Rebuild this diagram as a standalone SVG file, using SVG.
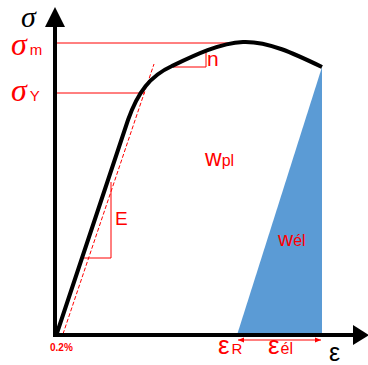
<svg xmlns="http://www.w3.org/2000/svg" width="368" height="365" viewBox="0 0 368 365">
<style>
.ax{stroke:#000;stroke-width:4;fill:none}
.rl{stroke:#ff0000;stroke-width:1;fill:none}
.rt{fill:#ff0000;font-family:"Liberation Sans",Arial,sans-serif}
.sg{font-family:"Liberation Serif","Times New Roman",serif;font-style:italic}
</style>
<defs>
<marker id="ah" markerWidth="6" markerHeight="6" refX="6" refY="3" orient="auto-start-reverse" markerUnits="userSpaceOnUse">
<path d="M0,0.5 L6,3 L0,5.5 Z" fill="#ff0000"/>
</marker>
</defs>
<g id="area-el">
<polygon points="237,335 322,335 322,67" fill="#5b9bd5"/>
</g>
<g id="connectors">
<line class="rl" x1="55" y1="43" x2="240" y2="43"/>
<line class="rl" x1="55" y1="93" x2="145" y2="93"/>
<line class="rl" x1="63" y1="334" x2="154" y2="64" stroke-dasharray="4 2"/>
<polyline class="rl" points="84,258 111,258 111,182"/>
<polyline class="rl" points="173,67 206,67 206,50"/>
<line class="rl" x1="238" y1="340" x2="321" y2="340" marker-start="url(#ah)" marker-end="url(#ah)"/>
<path class="ax" d="M57,333 L128,120 C138,92 150,76 172,66 C195,55 220,43 243,42 C268,41 295,54 322,67"/>
</g>
<g id="axes">
<line class="ax" x1="55" y1="337" x2="55" y2="24"/>
<polygon points="45,27 55,7 65,27" fill="#000"/>
<line class="ax" x1="53" y1="335" x2="356" y2="335"/>
<polygon points="353,325 369,335 353,345" fill="#000"/>
</g>
<g id="labels">
<text class="sg" x="21" y="27" font-size="30" fill="#000">σ</text>
<text class="rt" x="11" y="55"><tspan class="sg" font-size="32">σ</tspan><tspan font-size="15" dx="3">m</tspan></text>
<text class="rt" x="11" y="101"><tspan class="sg" font-size="32">σ</tspan><tspan font-size="15" dx="3">Y</tspan></text>
<text class="rt" x="115" y="225" font-size="19">E</text>
<text class="rt" x="207" y="66" font-size="21">n</text>
<text class="rt" x="205" y="166"><tspan font-size="23">w</tspan><tspan font-size="16">pl</tspan></text>
<text class="rt" x="278" y="246"><tspan font-size="21">w</tspan><tspan font-size="16">él</tspan></text>
<text class="rt" x="50" y="351" font-size="10" font-weight="bold">0.2%</text>
<text class="rt" x="218" y="354"><tspan font-size="26">ε</tspan><tspan font-size="15" dx="2">R</tspan></text>
<text class="rt" x="268" y="354"><tspan font-size="26">ε</tspan><tspan font-size="16" dx="1">él</tspan></text>
<text x="329" y="361" font-size="25" fill="#000" font-family="Liberation Sans,Arial,sans-serif">ε</text>
</g>
</svg>
